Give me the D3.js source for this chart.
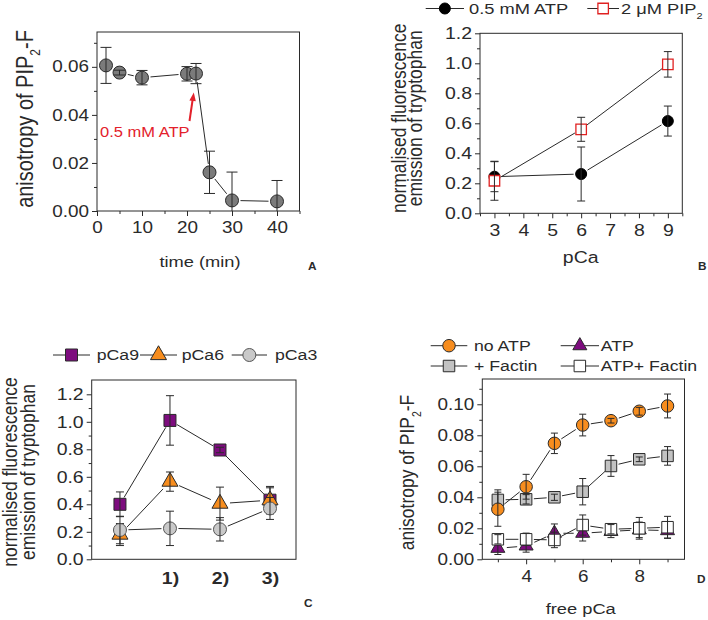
<!DOCTYPE html>
<html>
<head>
<meta charset="utf-8">
<script src="https://cdn.jsdelivr.net/npm/d3@7"></script>
<style>
  body { margin: 0; background: #fff; }
  svg { display: block; font-family: Arial, "Liberation Sans", sans-serif; }
</style>
</head>
<body>
<svg id="fig" width="708" height="620"></svg>
<script>
// ---- panel A: anisotropy over time ----
const timeMin = [2, 5, 10, 20, 22, 25, 30, 40];
const anisoTime = [0.0606, 0.0576, 0.0555, 0.0571, 0.0572, 0.0161, 0.0044, 0.0040];
const anisoTimeErr = [0.0075, 0.0010, 0.0030, 0.0030, 0.0042, 0.0088, 0.0118, 0.0087];
const ticksAx = [0, 10, 20, 30, 40];
const ticksAy = [0, 0.02, 0.04, 0.06];

// ---- panel B: tryptophan emission vs pCa ----
const pCaB = [3, 6, 9];
const atpB = [0.244, 0.262, 0.615];
const atpBErr = [0.10, 0.18, 0.10];
const pip2B = [0.217, 0.560, 0.993];
const pip2BErr = [0.13, 0.08, 0.085];
const ticksBx = [3, 4, 5, 6, 7, 8, 9];
const ticksBy = [0, 0.2, 0.4, 0.6, 0.8, 1.0, 1.2];

// ---- panel C: emission per step ----
const stepC = [0, 1, 2, 3];
const stepTicksC = [1, 2, 3];
const stepLabelsC = ['1)', '2)', '3)'];
const pCa9C = [0.40, 1.01, 0.795, 0.43];
const pCa9CErr = [0.09, 0.18, 0.02, 0.10];
const pCa6C = [0.18, 0.565, 0.405, 0.43];
const pCa6CErr = [0.08, 0.07, 0.12, 0.09];
const pCa3C = [0.213, 0.225, 0.218, 0.37];
const pCa3CErr = [0.10, 0.125, 0.085, 0.08];
const ticksCy = [0, 0.2, 0.4, 0.6, 0.8, 1.0, 1.2];

// ---- panel D: anisotropy vs free pCa ----
const pCaD = [3, 4, 5, 6, 7, 8, 9];
const noAtpD = [0.0323, 0.0468, 0.0748, 0.0866, 0.0894, 0.0955, 0.0989];
const noAtpDErr = [0.011, 0.008, 0.0066, 0.007, 0.0015, 0.0025, 0.0077];
const factinD = [0.0383, 0.0387, 0.0400, 0.0436, 0.0602, 0.0645, 0.0667];
const factinDErr = [0.0065, 0.003, 0.002, 0.0085, 0.0067, 0.0015, 0.006];
const atpD = [0.0071, 0.0086, 0.0168, 0.0168, 0.0180, 0.0190, 0.0185];
const atpDErr = [0.004, 0.004, 0.006, 0.005, 0.004, 0.005, 0.005];
const atpFactinD = [0.0129, 0.0129, 0.0125, 0.0221, 0.0194, 0.0200, 0.0207];
const atpFactinDErr = [0.003, 0.004, 0.005, 0.0065, 0.003, 0.007, 0.007];
const ticksDx = [4, 6, 8];
const ticksDy = [0, 0.02, 0.04, 0.06, 0.08, 0.10];

const SX = 1.18;          // the source figure is a little stretched sideways
const INK = '#2a2a2a';
const FONT = 'Arial, "Liberation Sans", sans-serif';
const ORANGE = '#f78d1e';
const PURPLE = '#7d0c7e';

const svg = d3.select('#fig');

function makePanel(id, box, xDomain, yDomain) {
  const g = svg.append('g');
  const x = d3.scaleLinear().domain(xDomain).range([box.left, box.right]);
  const y = d3.scaleLinear().domain(yDomain).range([box.bottom, box.top]);
  g.append('clipPath').attr('id', 'clip-' + id).append('rect')
    .attr('x', box.left).attr('y', box.top)
    .attr('width', box.right - box.left).attr('height', box.bottom - box.top);
  return { g, x, y, clip: `url(#clip-${id})` };
}

// text with the same sideways stretch as the original
function txt(g, x, y, parts, o = {}) {
  const size = o.size || 15;
  const t = g.append('text')
    .attr('transform', `translate(${x},${y}) scale(${SX},1)` + (o.rotate ? ' rotate(-90)' : ''))
    .attr('font-size', size)
    .attr('text-anchor', o.anchor || 'start')
    .attr('fill', o.color || INK)
    .attr('font-weight', o.weight || null);
  if (typeof parts === 'string') parts = [parts];
  let shift = 0;
  parts.forEach(p => {
    const sub = Array.isArray(p);
    const s = sub ? p[0] : p;
    const want = sub ? size * 0.32 : 0;
    t.append('tspan')
      .attr('dy', want - shift)
      .attr('font-size', sub ? size * 0.6 : null)
      .text(s);
    shift = want;
  });
  return t;
}

function axes(p, o) {
  const { g, x, y } = p;
  const [left, right] = x.range();
  const [bottom, top] = y.range();
  const ax = g.append('g');
  if (o.xMinor) {
    ax.append('g').attr('transform', `translate(0,${bottom})`)
      .call(d3.axisBottom(x).tickValues(o.xMinor).tickSize(3).tickFormat(''));
  }
  ax.append('g').attr('transform', `translate(${left},0)`)
    .call(d3.axisLeft(y).tickValues(o.yMinor).tickSize(3).tickFormat(''));
  const xa = ax.append('g').attr('transform', `translate(0,${bottom})`)
    .call(d3.axisBottom(x).tickValues(o.xTicks).tickSize(o.xTickSize ?? 5)
      .tickPadding(o.xPad ?? 6).tickFormat(o.xFmt));
  const ya = ax.append('g').attr('transform', `translate(${left},0)`)
    .call(d3.axisLeft(y).tickValues(o.yTicks).tickSize(5).tickPadding(3).tickFormat(o.yFmt));
  ax.selectAll('.domain').remove();
  ax.selectAll('g').attr('font-family', FONT).attr('font-size', o.font).attr('color', INK);
  ax.selectAll('line').attr('stroke-width', 1);
  ya.selectAll('text').each(function () {
    const t = d3.select(this);
    const tx = +t.attr('x');
    t.attr('x', 0).attr('transform', `translate(${tx},0) scale(${SX},1)`);
  });
  xa.selectAll('text').attr('transform', `scale(${SX},1)`).attr('font-weight', o.xBold ? 'bold' : null);
  g.append('rect')
    .attr('x', left).attr('y', top)
    .attr('width', right - left).attr('height', bottom - top)
    .attr('fill', 'none').attr('stroke', INK).attr('stroke-width', 1);
}

const shapes = { circle: d3.symbolCircle, square: d3.symbolSquare, triangle: d3.symbolTriangle };
function symPath(shape, w) {
  const area = shape === 'circle' ? Math.PI * w * w / 4
    : shape === 'square' ? w * w
    : Math.sqrt(3) / 4 * w * w;
  return d3.symbol(shapes[shape], area)();
}

function series(p, xs, ys, errs, st) {
  const layer = p.g.append('g').attr('clip-path', p.clip);
  const pts = xs.map((v, i) => [p.x(v), p.y(ys[i])]);
  const cut = st.size / 2 + 2;
  for (let i = 1; i < pts.length; i++) {
    const [ax, ay] = pts[i - 1];
    const [bx, by] = pts[i];
    const len = Math.hypot(bx - ax, by - ay);
    if (len <= 2 * cut) continue;
    const ux = (bx - ax) / len, uy = (by - ay) / len;
    layer.append('line')
      .attr('x1', ax + ux * cut).attr('y1', ay + uy * cut)
      .attr('x2', bx - ux * cut).attr('y2', by - uy * cut)
      .attr('stroke', INK).attr('stroke-width', 1);
  }
  layer.selectAll(null).data(pts).join('path')
    .attr('d', symPath(st.shape, st.size))
    .attr('transform', d => `translate(${d[0]},${d[1]})`)
    .attr('fill', st.fill).attr('stroke', st.stroke || INK).attr('stroke-width', st.sw || 1);
  const c = st.cap / 2;
  layer.selectAll(null)
    .data(xs.map((v, i) => ({ x: p.x(v), lo: p.y(ys[i] - errs[i]), hi: p.y(ys[i] + errs[i]) })))
    .join('path')
    .attr('d', d => `M${d.x},${d.lo}V${d.hi}M${d.x - c},${d.hi}h${2 * c}M${d.x - c},${d.lo}h${2 * c}`)
    .attr('fill', 'none').attr('stroke', INK).attr('stroke-width', 1);
}

function legendItem(g, x0, x1, y, st, label, tx, size) {
  g.append('line').attr('x1', x0).attr('x2', x1).attr('y1', y).attr('y2', y)
    .attr('stroke', INK).attr('stroke-width', 1);
  g.append('path').attr('d', symPath(st.shape, st.size))
    .attr('transform', `translate(${(x0 + x1) / 2},${y})`)
    .attr('fill', st.fill).attr('stroke', st.stroke || INK).attr('stroke-width', st.sw || 1);
  txt(g, tx, y + size * 0.36, label, { size });
}

// ================= A =================
const pA = makePanel('a', { left: 97, right: 299.5, top: 32, bottom: 211 }, [0, 45], [0, 0.0745]);
axes(pA, {
  xTicks: ticksAx, xMinor: [5, 15, 25, 35, 45], xFmt: d3.format('d'),
  yTicks: ticksAy, yMinor: [0.01, 0.03, 0.05, 0.07], yFmt: d3.format('.2f'), font: 16
});
const stA = { shape: 'circle', size: 13, fill: '#7b7b7b', cap: 11 };
series(pA, timeMin, anisoTime, anisoTimeErr, stA);
txt(pA.g, 100, 136.5, '0.5 mM ATP', { size: 14, color: '#e3212b' });
pA.g.append('line').attr('x1', 189.5).attr('y1', 121).attr('x2', 192.6).attr('y2', 100)
  .attr('stroke', '#e3212b').attr('stroke-width', 2);
pA.g.append('path').attr('d', 'M189.4,100.5L193.8,92.5L195.8,101.3Z').attr('fill', '#e3212b');
txt(pA.g, 200, 267, 'time (min)', { size: 15.5, anchor: 'middle' });
txt(pA.g, 32.5, 119, ['anisotropy of PIP', ['2'], '-F'], { size: 20, anchor: 'middle', rotate: true });
txt(pA.g, 308, 270, 'A', { size: 10, weight: 'bold' });

// ================= B =================
const pB = makePanel('b', { left: 480, right: 682.3, top: 33.3, bottom: 213.3 }, [2.5, 9.5], [0, 1.2]);
axes(pB, {
  xTicks: ticksBx, xMinor: d3.range(2.5, 9.6, 1), xFmt: d3.format('d'),
  yTicks: ticksBy, yMinor: [0.1, 0.3, 0.5, 0.7, 0.9, 1.1], yFmt: d3.format('.1f'), font: 16.5
});
const stAtpB = { shape: 'circle', size: 11, fill: '#000', stroke: '#000', cap: 8 };
const stPipB = { shape: 'square', size: 10.5, fill: '#fff', stroke: '#e02020', sw: 1.3, cap: 8 };
series(pB, pCaB, atpB, atpBErr, stAtpB);
series(pB, pCaB, pip2B, pip2BErr, stPipB);
legendItem(pB.g, 425.7, 464, 8.5, stAtpB, '0.5 mM ATP', 469, 15.5);
legendItem(pB.g, 587.3, 619, 8.5, stPipB, ['2 \u03bcM PIP', ['2']], 621, 15.5);
txt(pB.g, 580.7, 263, 'pCa', { size: 16.5, anchor: 'middle' });
txt(pB.g, 406, 118.3, 'normalised fluorescence', { size: 17.5, anchor: 'middle', rotate: true });
txt(pB.g, 422, 118.3, 'emission of tryptophan', { size: 17.5, anchor: 'middle', rotate: true });
txt(pB.g, 698, 270, 'B', { size: 10, weight: 'bold' });

// ================= C =================
const pC = makePanel('c', { left: 91.7, right: 296, top: 380, bottom: 559.3 }, [-0.565, 3.52], [0, 1.304]);
axes(pC, {
  xTicks: stepTicksC, xFmt: (d, i) => stepLabelsC[i], xTickSize: 0, xPad: 13, xBold: true,
  yTicks: ticksCy, yMinor: [0.1, 0.3, 0.5, 0.7, 0.9, 1.1], yFmt: d3.format('.1f'), font: 16.5
});
const st9C = { shape: 'square', size: 12, fill: PURPLE, cap: 8 };
const st6C = { shape: 'triangle', size: 16, fill: ORANGE, cap: 8 };
const st3C = { shape: 'circle', size: 13, fill: '#c9c9c9', stroke: '#555', cap: 8 };
series(pC, stepC, pCa9C, pCa9CErr, st9C);
series(pC, stepC, pCa6C, pCa6CErr, st6C);
series(pC, stepC, pCa3C, pCa3CErr, st3C);
legendItem(pC.g, 53, 90, 355, st9C, 'pCa9', 96.7, 15);
legendItem(pC.g, 140, 177, 355, st6C, 'pCa6', 181.7, 15);
legendItem(pC.g, 231.7, 267, 355, st3C, 'pCa3', 275, 15);
txt(pC.g, 17, 472, 'normalised fluorescence', { size: 17.5, anchor: 'middle', rotate: true });
txt(pC.g, 35, 472, 'emission of tryptophan', { size: 17.5, anchor: 'middle', rotate: true });
txt(pC.g, 304, 607, 'C', { size: 10, weight: 'bold' });

// ================= D =================
const pD = makePanel('d', { left: 482.3, right: 684.5, top: 379, bottom: 559.3 }, [2.45, 9.6], [0, 0.1163]);
axes(pD, {
  xTicks: ticksDx, xMinor: [3, 5, 7, 9], xFmt: d3.format('d'),
  yTicks: ticksDy, yMinor: [0.01, 0.03, 0.05, 0.07, 0.09, 0.11], yFmt: d3.format('.2f'), font: 16
});
const stNoAtp = { shape: 'circle', size: 12.5, fill: ORANGE, cap: 7 };
const stFactin = { shape: 'square', size: 11.5, fill: '#c2c2c2', cap: 7 };
const stAtp = { shape: 'triangle', size: 14, fill: PURPLE, cap: 7 };
const stAtpFactin = { shape: 'square', size: 11.5, fill: '#fff', cap: 7 };
series(pD, pCaD, atpD, atpDErr, stAtp);
series(pD, pCaD, atpFactinD, atpFactinDErr, stAtpFactin);
series(pD, pCaD, factinD, factinDErr, stFactin);
series(pD, pCaD, noAtpD, noAtpDErr, stNoAtp);
legendItem(pD.g, 430.7, 467.3, 345.7, stNoAtp, 'no ATP', 474, 15);
legendItem(pD.g, 560.7, 599, 345.7, stAtp, 'ATP', 600.7, 15);
legendItem(pD.g, 430.7, 467.3, 366, stFactin, '+ Factin', 474, 15);
legendItem(pD.g, 560.7, 599, 366, stAtpFactin, 'ATP+ Factin', 600.7, 15);
txt(pD.g, 580.7, 614, 'free pCa', { size: 15.5, anchor: 'middle' });
txt(pD.g, 414, 472.5, ['anisotropy of PIP', ['2'], '-F'], { size: 17.5, anchor: 'middle', rotate: true });
txt(pD.g, 697, 583, 'D', { size: 10, weight: 'bold' });
</script>
</body>
</html>
